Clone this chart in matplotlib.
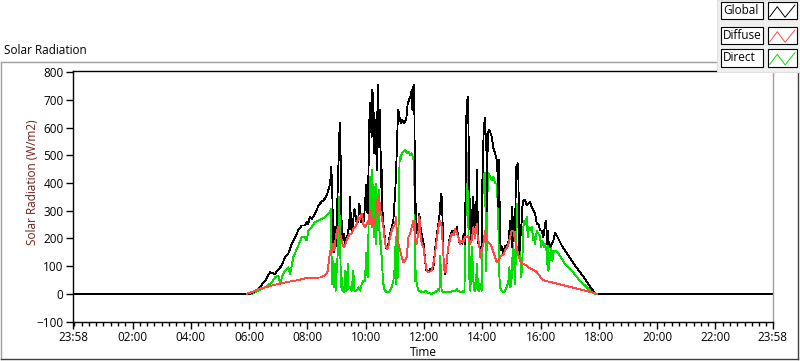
import numpy as np
import matplotlib.pyplot as plt
from matplotlib.patches import Rectangle
from matplotlib.lines import Line2D

plt.rcParams['font.family'] = ['Open Sans', 'DejaVu Sans']

# time in minutes after midnight, radiation in W/m2
global_min = [-2, 360, 365, 379, 393, 403, 413, 420, 427, 434, 441, 448, 455, 461, 468, 475, 478.5, 482, 485, 489,
              496, 499, 503, 506, 509, 513, 516, 520, 523, 527, 528, 529, 530, 531, 533, 534, 536, 537, 538, 540,
              542, 544, 545, 546.5, 548, 549, 551, 552, 554, 556, 557.5, 561, 563, 564, 566, 568, 569, 571, 573, 575,
              577, 578, 580, 581.5, 583.6, 585, 587, 588.4, 590.4, 593.2, 595.2, 597.3, 598.7, 600.7, 602.8, 604.2,
              605.6, 608.3, 610.4, 612.4, 613.8, 615.9, 617.9, 619.3, 620.7, 622.7, 624.8, 626.2, 627.5, 628.9, 630.3,
              631.6, 633, 634.4, 636.5, 638.5, 641.3, 644, 646.7, 650.2, 653.6, 657, 659.1, 660.5, 661.8, 663.9, 666,
              667.3, 669.4, 670.8, 672.8, 675.6, 678.3, 681.1, 683.8, 686.6, 689.3, 692.1, 694.8, 696.2, 697.5, 698.9,
              700.3, 701.7, 703, 705.1, 707.2, 708.5, 710.6, 712, 714, 716.8, 719.5, 722.3, 725, 729, 732.5, 736,
              739.4, 741.4, 744.2, 746.9, 749.7, 752.4, 753.8, 755.1, 756.5, 757.9, 759.3, 760.6, 762, 763.4, 765.4,
              767.5, 770.2, 773, 775.7, 778.5, 781.2, 784, 786.7, 788.1, 789.5, 790.8, 793.6, 796.3, 799.1, 801.8,
              804.6, 805.9, 807.3, 808.7, 810.1, 811.4, 812.8, 814.9, 816.9, 818.3, 819.7, 821.7, 823.8, 825.2, 827.2,
              829.3, 830.7, 832, 834.1, 836.2, 838.9, 840.3, 841.6, 843, 844.4, 845.8, 847.2, 848.5, 849.9, 851.3,
              854, 856.1, 859.5, 863, 866.4, 869.8, 872, 873.3, 874.6, 876.7, 878.7, 880.1, 883.6, 887, 890.4, 893.9,
              895.9, 897.3, 899.3, 900.7, 902.1, 904.1, 907.6, 909.6, 911, 913.1, 914.4, 916.5, 918.6, 921.3, 922.7,
              924.7, 928.2, 931.6, 935, 938.5, 941.9, 945.3, 948.8, 952.2, 955.6, 959.1, 962.5, 965.9, 969.4, 971.4,
              973.4, 974.8, 976.2, 979.6, 983, 986.5, 989.9, 993.3, 996.8, 1000.2, 1003.6, 1010.5, 1017.4, 1024.2,
              1031.1, 1037.9, 1044.8, 1051.7, 1058.5, 1065.4, 1072.3, 1076, 1438]
global_wm2 = [0, 0, 2, 18, 48, 78, 72, 88, 102, 133, 147, 181, 205, 229, 247, 247, 259, 253, 277, 271,
              290, 302, 320, 326, 332, 338, 344, 356, 374, 398, 435, 459, 422, 398, 181, 151, 205, 241, 169, 241,
              350, 471, 531, 616, 567, 350, 229, 205, 193, 217, 181, 199, 217, 229, 241, 350, 290, 217, 229, 277,
              308, 290, 277, 253, 259, 277, 326, 302, 259, 277, 253, 290, 320, 392, 300, 290,
              422, 688, 616, 567, 736, 688, 507, 567, 628, 447, 755, 640, 531, 664, 567,
              386, 447, 302, 253, 217, 169, 163, 181, 217, 241, 265, 326, 350, 410, 507, 628,
              664, 640, 628, 616, 628, 616, 622, 634, 688, 700, 712, 736, 664, 736, 755,
              652, 290, 326, 241, 205, 229, 290, 253, 229, 205, 181, 120, 84, 78, 90, 84,
              96, 133, 181, 217, 253, 290, 326, 362, 350, 290, 181, 108, 84, 72, 84,
              133, 169, 205, 217, 229, 217, 235, 229, 241, 217, 205, 181, 193, 181, 217,
              181, 447, 640, 688, 712, 628, 447, 253, 193, 205, 302, 350, 229, 205, 265,
              447, 253, 181, 169, 133, 181, 410, 507, 592, 616, 634, 560, 531, 300, 579,
              590, 585, 567, 525, 507, 483, 420, 313, 483, 193, 157, 170, 145, 175, 169, 190,
              229, 265, 205, 313, 169, 277, 229, 458, 459, 471, 420, 145, 205, 265, 314,
              338, 338, 320, 326, 332, 313, 300, 290, 253, 253, 229, 229, 205, 253, 265,
              181, 229, 193, 169, 181, 193, 219, 211, 199, 187, 175, 157, 139, 120,
              102, 87, 70, 54, 36, 18, 2, 0, 0]

diffuse_min = [355, 357, 365, 379, 393, 420, 441, 461, 479, 496, 509, 518, 522, 525, 527.3, 530, 532.8, 535.5,
               538.3, 541, 543.7, 546.5, 549.2, 552, 554.7, 557.5, 560.9, 564.3, 567.8, 571.2, 574.6, 578.1, 581.5,
               584.9, 588.4, 591.8, 595.2, 598.7, 602.1, 605.6, 609, 612.4, 615.9, 619.3, 622.7, 624.8, 627.5, 630.3,
               633, 636.5, 639.9, 643.3, 646.7, 650.2, 653.6, 657, 660.5, 662.5, 664.6, 667.3, 670.8, 674.2, 677.6,
               681.1, 684.5, 688, 691.4, 694.8, 698.2, 700.3, 701.7, 705.1, 708.5, 710.6, 713.3, 715.4, 718.8, 722.3,
               725.7, 729.1, 735.9, 741.4, 746.9, 751, 753.1, 755.1, 756.5, 759.3, 762, 764.8, 767.5, 770.2, 773.7,
               777.1, 781.2, 784, 786.7, 790.8, 794.3, 797.7, 801.1, 804.6, 808, 811.4, 814.9, 818.3, 821.7, 825.2,
               828.6, 830.7, 833.4, 836.2, 838.9, 842.3, 845.8, 849.2, 852.7, 856.1, 859.5, 863, 866.4, 869.8, 873.3,
               876.7, 880.1, 883.6, 887, 890.4, 893.9, 897.3, 900.7, 904.1, 907.6, 911, 914.4, 917.9, 921.3, 924.7,
               928.2, 935, 941.9, 948.8, 955.6, 962.5, 969.4, 973.5, 983, 996.8, 1010.5, 1024.2, 1037.9, 1051.7,
               1065.4, 1072.3, 1076]
diffuse_wm2 = [0, 3, 6, 18, 24, 36, 44, 50, 58, 58, 60, 70, 84, 133, 157, 151, 181, 157,
               205, 229, 241, 217, 205, 181, 169, 175, 193, 205, 217, 217, 235, 241, 253,
               277, 271, 290, 253, 240, 253, 265, 302, 241, 277, 253, 338, 302, 350, 302,
               277, 241, 181, 163, 169, 205, 229, 241, 253, 277, 205, 181, 157, 133, 114,
               120, 133, 205, 217, 241, 265, 229, 193, 181, 225, 280, 205, 181, 169, 120,
               84, 78, 84, 127, 205, 253, 265, 253, 241, 157, 84, 78, 133, 169, 199,
               217, 211, 235, 223, 205, 181, 193, 187, 205, 205, 211, 181, 193, 241, 200,
               253, 205, 181, 130, 157, 181, 229, 193, 187, 181, 169, 151, 133, 114, 120,
               133, 139, 140, 157, 165, 181, 205, 229, 229, 193, 169, 139, 120, 114, 108,
               106, 96, 90, 84, 72, 54, 48, 46, 42, 36, 30, 24, 18, 12,
               6, 2, 0]

direct_min = [-2, 362, 365, 393, 406.5, 413.4, 420.2, 423.7, 428.5, 434, 440.8, 444.3, 451.1, 461.4, 468.3, 475,
              478.5, 482, 488.8, 495.7, 502.6, 509.4, 516.3, 519.7, 523.1, 526.6, 528.6, 530, 531.4, 533.4, 535.5,
              536.9, 538.3, 540.3, 542.4, 543.7, 545.8, 547.9, 549.2, 550.6, 552, 554, 556.1, 557.5, 558.8, 560.9,
              563, 564.3, 567.8, 571.2, 574.6, 576.7, 581.5, 584.9, 588.4, 591.8, 595.2, 598.7, 600.8, 602.1, 604.2,
              605.6, 606.9, 608.3, 609.7, 611.1, 612.4, 613.8, 615.2, 616.5, 617.9, 619.3, 620.7, 622, 623.4, 624.8,
              626.2, 627.5, 628.9, 630.3, 631.6, 633, 634.4, 636.5, 638.5, 639.9, 643.3, 646.7, 650.2, 653.6, 657,
              659.1, 660.5, 661.8, 663.2, 664.6, 666, 667.3, 668.7, 670.1, 671.5, 674.2, 677.6, 681.1, 684.5, 688,
              691.4, 694.8, 696.9, 698.9, 700.3, 701.7, 703, 705.1, 708.5, 712, 715.4, 718.8, 722.3, 726.4, 735.9,
              742.8, 746.9, 749.7, 751.7, 753.8, 755.1, 756.5, 759.9, 770.2, 784, 787.4, 789.5, 797.7, 801.1, 803.2,
              804.6, 805.9, 807.3, 808.7, 810.1, 811.4, 812.8, 814.2, 815.6, 816.9, 818.3, 819.7, 821.7, 823.8,
              825.2, 827.2, 828.6, 830.7, 832, 834.1, 836.2, 838.9, 840.3, 841.6, 843, 844.4, 845.8, 847.9, 849.9,
              851.3, 852.7, 856.1, 859.5, 863, 866.4, 869.8, 871.9, 873.3, 874.6, 876.7, 880.1, 883.6, 887, 890.4,
              893.9, 895.9, 898, 900.7, 902.1, 904.1, 906.2, 907.6, 909, 911, 913.1, 914.4, 916.5, 918.6, 919.9,
              921.3, 922.7, 924.7, 926.8, 928.2, 931.6, 933.7, 935, 938.5, 941.9, 945.3, 947.4, 948.8, 952.2, 955.6,
              959.1, 961.1, 963.9, 966.6, 969.4, 972.1, 973.5, 974.8, 976.2, 979.6, 981.7, 984.4, 986.5, 989.9,
              996.8, 1003.6, 1010.5, 1024.2, 1037.9, 1051.7, 1062, 1068.8, 1074, 1438]
direct_wm2 = [0, 0, 0, 24, 42, 60, 66, 36, 66, 84, 96, 72, 133, 175, 205, 205,
              193, 229, 241, 259, 265, 271, 277, 283, 290, 296, 308, 36, 133, 84, 24,
              108, 12, 84, 145, 338, 350, 133, 24, 60, 12, 24, 6, 84, 12, 12,
              108, 18, 24, 12, 84, 12, 12, 24, 12, 36, 48, 48, 150, 84, 60,
              205, 350, 422, 302, 386, 253, 447, 265, 386, 205, 350, 181, 398, 277, 362,
              229, 374, 181, 205, 157, 133, 84, 36, 18, 12, 6, 6, 12, 24, 48,
              84, 133, 205, 36, 108, 60, 181, 410, 495, 483, 507, 513, 519, 507, 513,
              501, 507, 495, 483, 398, 48, 84, 36, 12, 12, 6, 6, 12, 6, 0,
              6, 12, 18, 12, 139, 36, 12, 6, 6, 12, 18, 12, 6, 12, 6,
              133, 314, 447, 507, 447, 253, 84, 24, 12, 84, 169, 133, 48, 12,
              12, 24, 108, 48, 12, 12, 36, 12, 326, 447, 422, 410, 435, 84, 229,
              410, 435, 422, 410, 422, 398, 398, 326, 229, 84, 24, 12, 6, 12, 24,
              48, 96, 24, 60, 133, 181, 84, 36, 133, 326, 302, 241, 181, 133, 60,
              84, 133, 241, 265, 253, 277, 205, 241, 229, 241, 193, 205, 181, 229, 217,
              205, 169, 193, 169, 181, 157, 108, 205, 84, 133, 181, 120, 151, 157,
              145, 127, 108, 84, 54, 30, 12, 2, 0, 0]

series_names = ['Global', 'Diffuse', 'Direct']
series_colors = ['#000000', '#ff4848', '#00e000']
series_z = [2, 3, 1]

tick_min = [-2, 120, 240, 360, 480, 600, 720, 840, 960, 1080, 1200, 1320, 1438]
tick_labels = ['23:58', '02:00', '04:00', '06:00', '08:00', '10:00', '12:00',
               '14:00', '16:00', '18:00', '20:00', '22:00', '23:58']

W, H = 800, 361


def fx(px):
    return px / W


def fy(py):
    return 1 - py / H


fig = plt.figure(figsize=(8, 3.61), dpi=100)
fig.patch.set_facecolor('white')

ax = fig.add_axes([fx(73.3), fy(321.7), (772.7 - 73.3) / W, (321.7 - 70.7) / H])

data = [(global_min, global_wm2), (diffuse_min, diffuse_wm2), (direct_min, direct_wm2)]
for (t, v), name, c, z in zip(data, series_names, series_colors, series_z):
    ax.plot(t, v, color=c, lw=0.6, antialiased=False, label=name, zorder=z)

ax.set_xlim(-2, 1438)
ax.set_ylim(-100, 805)
ax.set_yticks(np.arange(-100, 801, 100))
ax.set_xticks(tick_min)
ax.set_xticklabels(tick_labels)
ax.set_xticks(np.arange(0, 1440, 15), minor=True)
ax.tick_params(axis='both', which='major', direction='out', length=5, width=1,
               labelsize=8.5, pad=2, color='black')
ax.tick_params(axis='x', which='minor', direction='out', length=3, width=1, color='black')
for s in ['left', 'top', 'bottom']:
    ax.spines[s].set_color('black')
    ax.spines[s].set_linewidth(1)
ax.spines['right'].set_color('#a0a0a0')
ax.spines['right'].set_linewidth(1)

# texts
fig.text(fx(4), fy(51), 'Solar Radiation', ha='left', va='center', fontsize=8.5)
fig.text(fx(32), fy(182), 'Solar Radiation (W/m2)', ha='center', va='center',
         rotation=90, fontsize=8.5, color='#6b1d1d')
fig.text(fx(423), fy(353), 'Time', ha='center', va='center', fontsize=8.5)

# outer frame
fig.add_artist(Line2D([fx(0.5), fx(797.5)], [fy(62), fy(62)], color='#a0a0a0', lw=1))
fig.add_artist(Line2D([fx(1), fx(1)], [fy(62), fy(359)], color='#a0a0a0', lw=1))
fig.add_artist(Line2D([fx(0.5), fx(797.5)], [fy(359), fy(359)], color='#404040', lw=1))
fig.add_artist(Line2D([fx(797.5), fx(797.5)], [fy(62), fy(359)], color='#404040', lw=1))

# legend panel
fig.add_artist(Rectangle((fx(717), fy(71.7)), 83 / W, 71.7 / H, transform=fig.transFigure,
                         facecolor='#f0f0f0', edgecolor='#e0e0e0', lw=0.8, zorder=10))
row_top = [1.7, 26.7, 49.3]
box_h = 17.3
zig_x = [0.07, 0.33, 0.6, 0.94]
zig_y = [0.87, 0.29, 0.9, 0.19]
for name, c, top in zip(series_names, series_colors, row_top):
    fig.add_artist(Rectangle((fx(720.7), fy(top + box_h)), 42 / W, box_h / H,
                             transform=fig.transFigure, facecolor='white',
                             edgecolor='black', lw=0.8, zorder=11))
    fig.text(fx(723), fy(top + box_h / 2), name, ha='left', va='center',
             fontsize=8.5, zorder=12)
    fig.add_artist(Rectangle((fx(767.7), fy(top + box_h)), 29 / W, box_h / H,
                             transform=fig.transFigure, facecolor='white',
                             edgecolor='black', lw=0.8, zorder=11))
    fig.add_artist(Line2D([fx(767.7 + 29 * a) for a in zig_x],
                          [fy(top + box_h * b) for b in zig_y],
                          color=c, lw=0.7, zorder=12))

fig.savefig('out.png', dpi=100)
